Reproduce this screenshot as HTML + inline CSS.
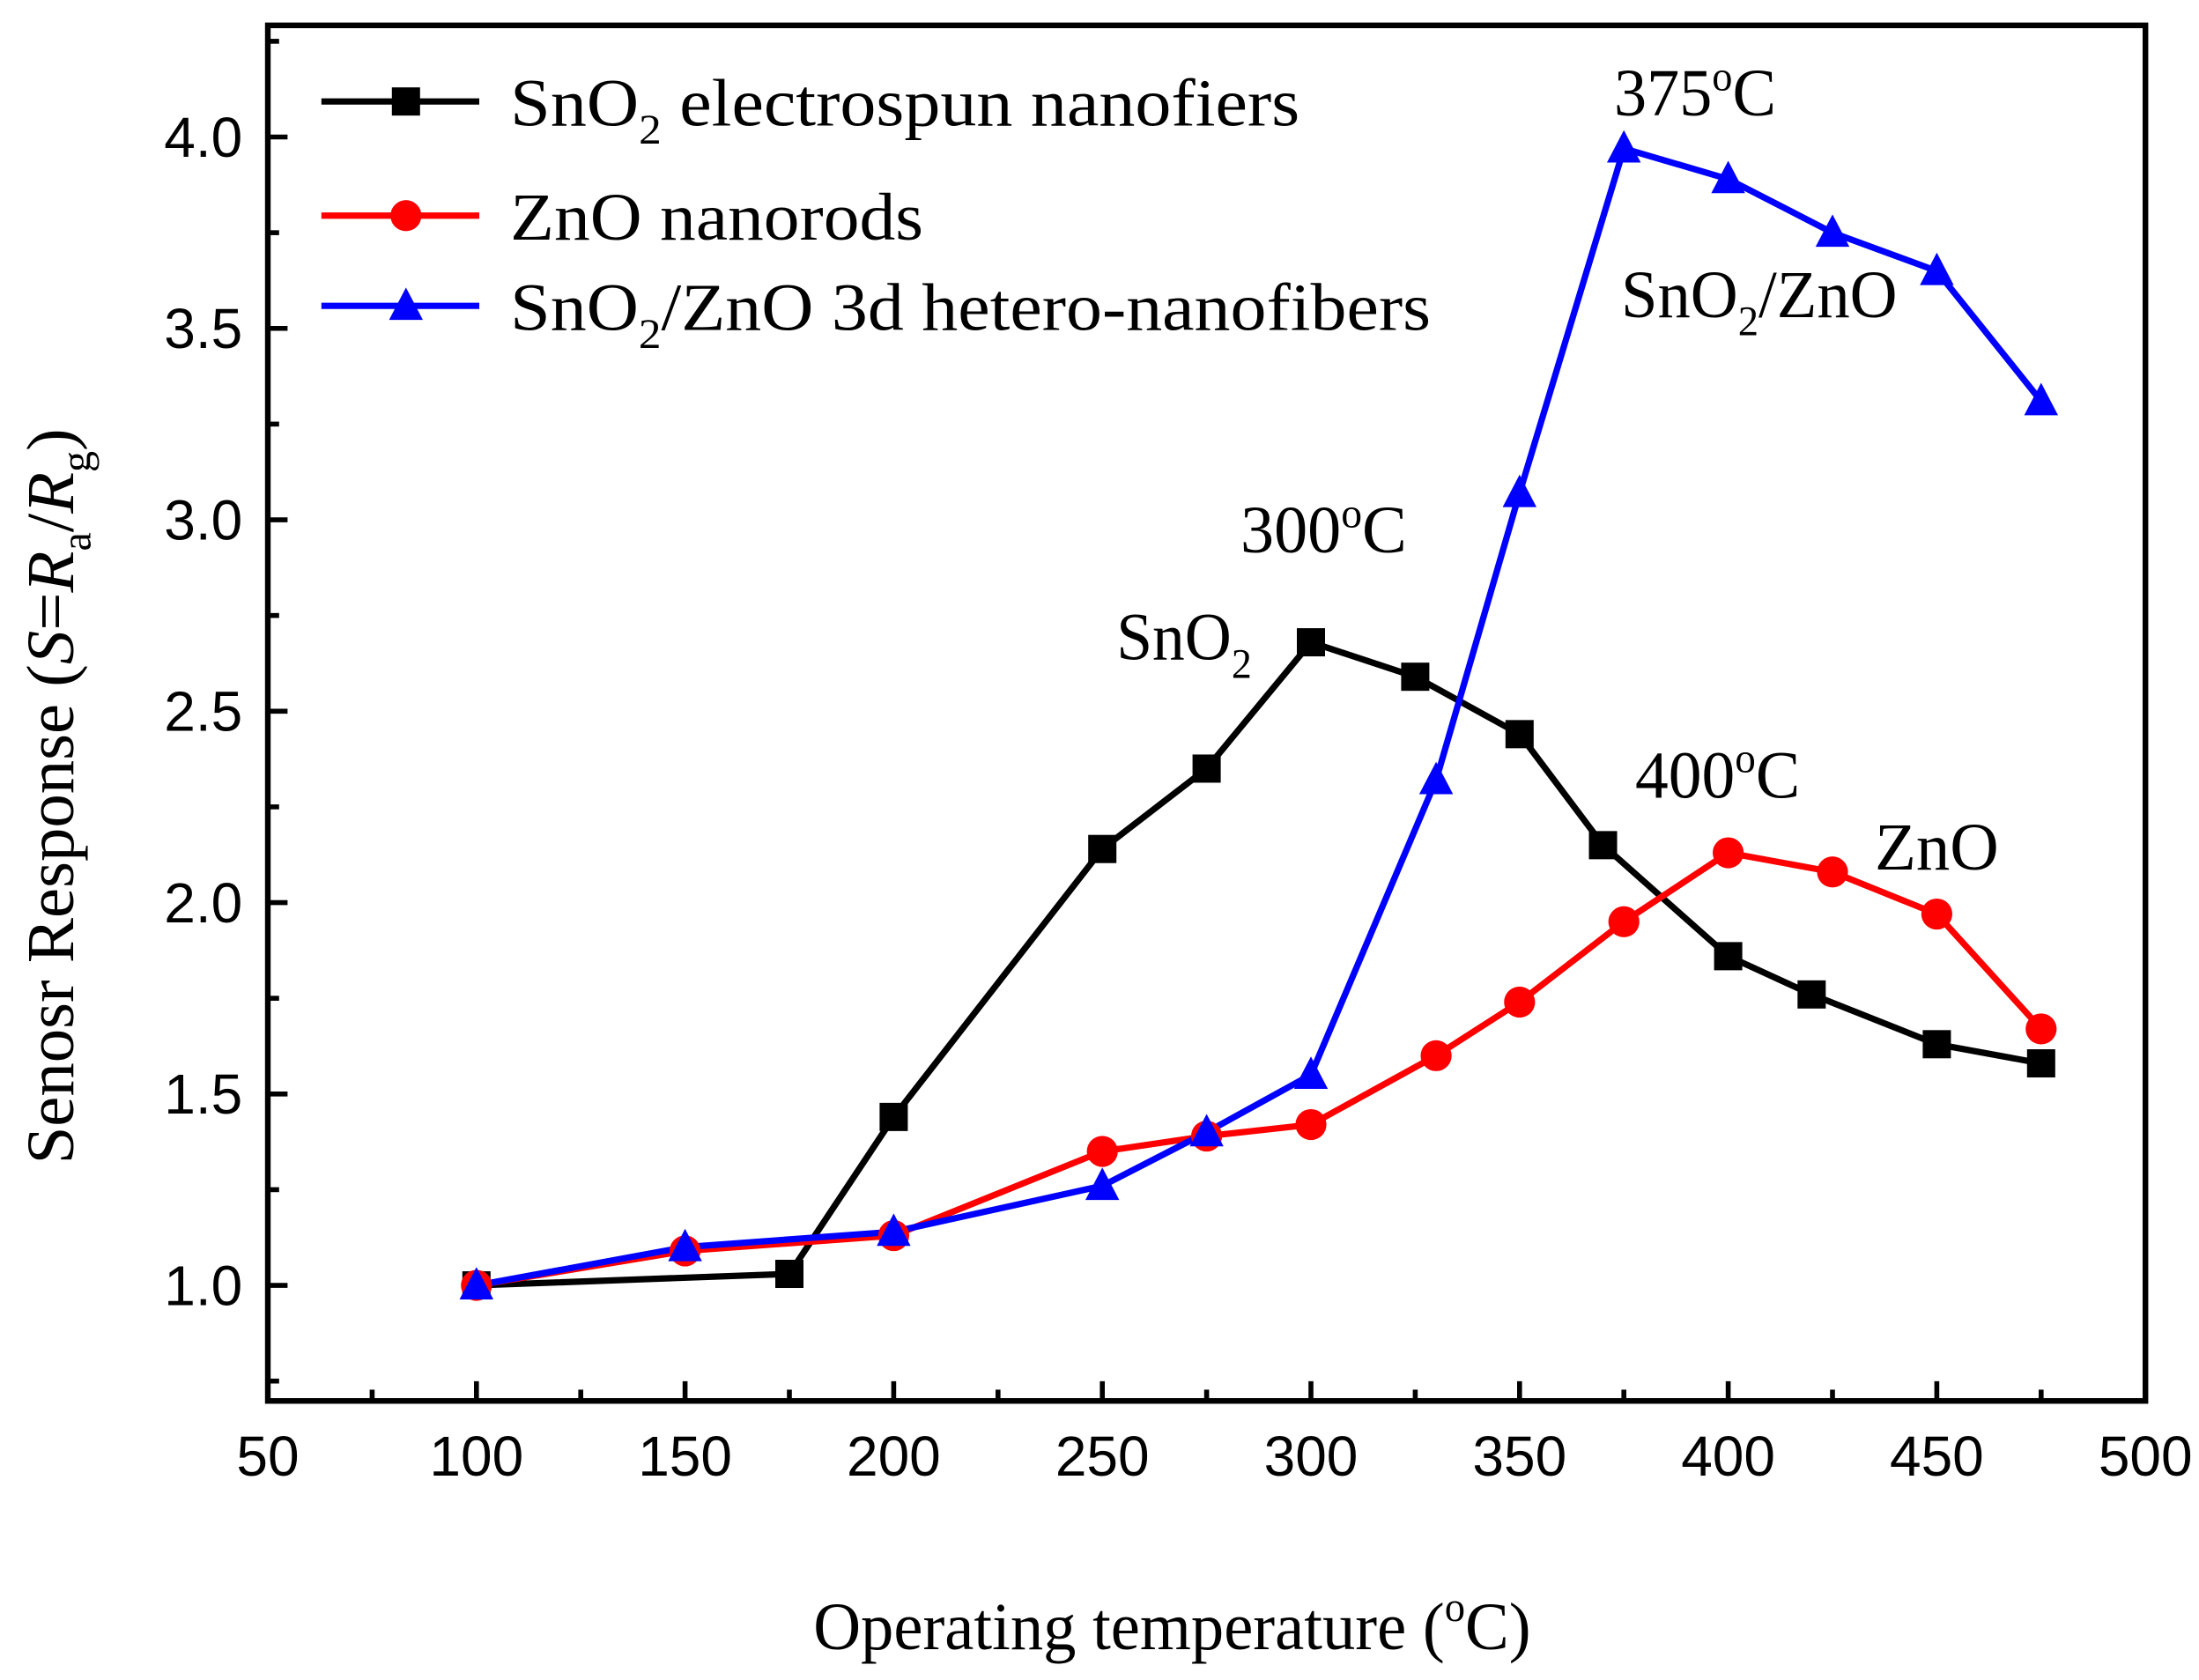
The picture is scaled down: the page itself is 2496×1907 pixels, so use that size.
<!DOCTYPE html>
<html><head><meta charset="utf-8"><style>
html,body{margin:0;padding:0;background:#fff;}
svg{display:block;}
text{font-family:"Liberation Serif",serif;fill:#000;}
.s{font-family:"Liberation Sans",sans-serif;}
</style></head><body>
<svg id="c" width="2496" height="1907" viewBox="0 0 1560 1192" preserveAspectRatio="none" xmlns="http://www.w3.org/2000/svg">
<rect x="0" y="0" width="1560" height="1192" fill="#fff"/>
<g id="g"></g>
<rect x="190" y="18" width="1332" height="976" fill="none" stroke="#000" stroke-width="4"/>
<text x="577" y="1170" font-size="48" textLength="509" lengthAdjust="spacingAndGlyphs">Operating temperature (<tspan dy="-20" font-size="30">o</tspan><tspan dy="20">C)</tspan></text>
<text transform="translate(52,565) rotate(-90)" font-size="48" text-anchor="middle">Senosr Response (<tspan font-style="italic">S</tspan>=<tspan font-style="italic">R</tspan><tspan dy="12" font-size="30">a</tspan><tspan dy="-12">/</tspan><tspan font-style="italic">R</tspan><tspan dy="12" font-size="30">g</tspan><tspan dy="-12">)</tspan></text>
<g font-size="48">
<text x="362" y="89" textLength="560" lengthAdjust="spacingAndGlyphs">SnO<tspan dy="13" font-size="30">2</tspan><tspan dy="-13"> electrospun nanofiers</tspan></text>
<text x="362" y="170" textLength="293" lengthAdjust="spacingAndGlyphs">ZnO nanorods</text>
<text x="362" y="234" textLength="653" lengthAdjust="spacingAndGlyphs">SnO<tspan dy="13" font-size="30">2</tspan><tspan dy="-13">/ZnO 3d hetero-nanofibers</tspan></text>
<text x="1145" y="82" textLength="115" lengthAdjust="spacingAndGlyphs">375<tspan dy="-18" font-size="30">o</tspan><tspan dy="18">C</tspan></text>
<text x="1150" y="225" textLength="196" lengthAdjust="spacingAndGlyphs">SnO<tspan dy="13" font-size="30">2</tspan><tspan dy="-13">/ZnO</tspan></text>
<text x="880" y="392" textLength="118" lengthAdjust="spacingAndGlyphs">300<tspan dy="-18" font-size="30">o</tspan><tspan dy="18">C</tspan></text>
<text x="792" y="468" textLength="96" lengthAdjust="spacingAndGlyphs">SnO<tspan dy="13" font-size="30">2</tspan></text>
<text x="1160" y="566" textLength="117" lengthAdjust="spacingAndGlyphs">400<tspan dy="-18" font-size="30">o</tspan><tspan dy="18">C</tspan></text>
<text x="1330" y="617" textLength="88" lengthAdjust="spacingAndGlyphs">ZnO</text>
</g>
</svg>
<script>
var NS="http://www.w3.org/2000/svg",g=document.getElementById('g');
function X(t){return 190+2.96*(t-50);}function Y(v){return 912-(v-1)*271.6;}
function el(n,a,p){var e=document.createElementNS(NS,n);for(var k in a)e.setAttribute(k,a[k]);(p||g).appendChild(e);return e;}
for(var t=75;t<500;t+=25){var maj=(t%50==0);el('line',{x1:X(t),x2:X(t),y1:994,y2:994-(maj?14:8),stroke:'#000','stroke-width':3.5});}
for(var v=0.75;v<4.3;v+=0.25){var maj=Math.abs(v*2-Math.round(v*2))<1e-6;el('line',{x1:190,x2:190+(maj?14:8),y1:Y(v),y2:Y(v),stroke:'#000','stroke-width':3.5});}
for(var t=50;t<=500;t+=50){var e=el('text',{x:X(t),y:1047,'font-size':40,'text-anchor':'middle','class':'s'});e.textContent=t;}
for(var v=1;v<=4;v+=0.5){var e=el('text',{x:172,y:Y(v)+14,'font-size':40,'text-anchor':'end','class':'s'});e.textContent=v.toFixed(1);}
var S=[[100,1.0],[175,1.03],[200,1.44],[250,2.14],[275,2.35],[300,2.68],[325,2.59],[350,2.44],[370,2.15],[400,1.86],[420,1.76],[450,1.63],[475,1.58]];
var Z=[[100,1.0],[150,1.09],[200,1.13],[250,1.35],[275,1.39],[300,1.42],[330,1.6],[350,1.74],[375,1.95],[400,2.13],[425,2.08],[450,1.97],[475,1.67]];
var B=[[100,1.0],[150,1.1],[200,1.14],[250,1.26],[275,1.40],[300,1.55],[330,2.32],[350,3.07],[375,3.97],[400,3.89],[425,3.75],[450,3.65],[475,3.31]];
function line(d,c){el('polyline',{points:d.map(function(p){return X(p[0])+','+Y(p[1]);}).join(' '),fill:'none',stroke:c,'stroke-width':4.5,'stroke-linejoin':'round'});}
function sq(x,y,c){el('rect',{x:x-10,y:y-10,width:20,height:20,fill:c});}
function ci(x,y,c){el('circle',{cx:x,cy:y,r:11,fill:c});}
function tr(x,y,c){el('polygon',{points:(x-12)+','+(y+10)+' '+(x+12)+','+(y+10)+' '+x+','+(y-13),fill:c});}
line(S,'#000');line(Z,'#f00');line(B,'#00f');
S.forEach(function(p){sq(X(p[0]),Y(p[1]),'#000');});
Z.forEach(function(p){ci(X(p[0]),Y(p[1]),'#f00');});
B.forEach(function(p){tr(X(p[0]),Y(p[1]),'#00f');});
el('line',{x1:228,x2:340,y1:72,y2:72,stroke:'#000','stroke-width':4.5});sq(288,72,'#000');
el('line',{x1:228,x2:340,y1:153,y2:153,stroke:'#f00','stroke-width':4.5});ci(288,153,'#f00');
el('line',{x1:228,x2:340,y1:217,y2:217,stroke:'#00f','stroke-width':4.5});tr(288,217,'#00f');
</script>
</body></html>
